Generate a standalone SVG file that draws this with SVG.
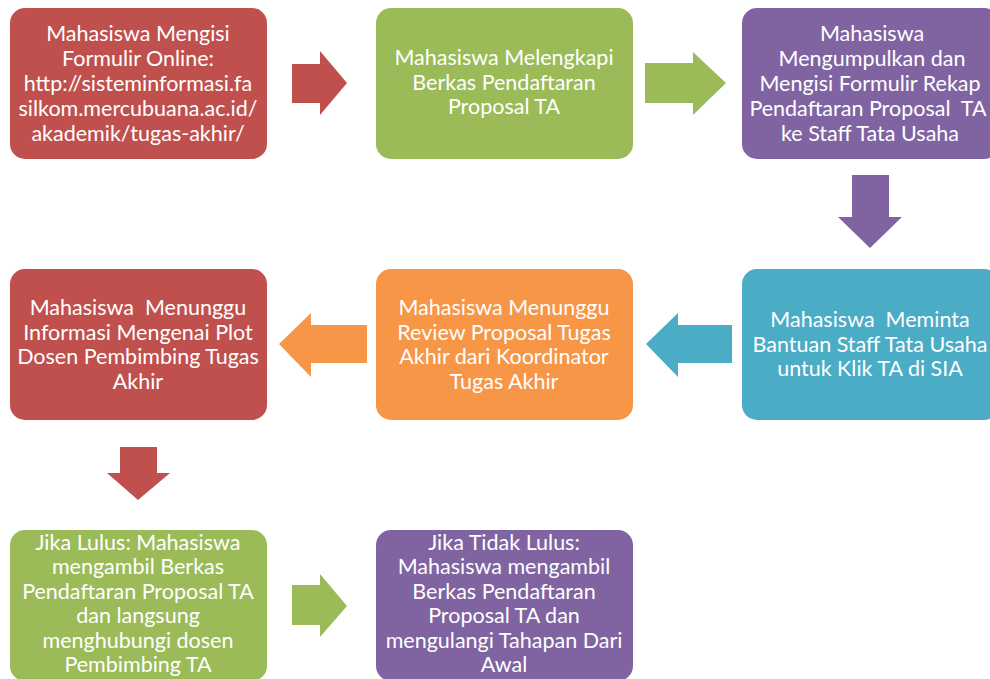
<svg xmlns="http://www.w3.org/2000/svg" width="990" height="679" viewBox="0 0 990 679">
<style>
.box{stroke:none}
.t{font-family:Lato,"Liberation Sans",sans-serif;font-size:21.5px;fill:#ffffff;text-anchor:middle;white-space:pre}
.red{fill:#C0504D}.green{fill:#9BBB59}.purple{fill:#8064A2}.orange{fill:#F79646}.teal{fill:#4BACC6}
</style>
<rect width="990" height="679" fill="#ffffff"/>
<g id="connectors">
<polygon class="red" points="292,64 320,64 320,51 347,83 320,115 320,103 292,103"/>
<polygon class="green" points="645,63 693,63 693,52 726,83 693,115 693,103 645,103"/>
<polygon class="purple" points="852,175 889,175 889,217 902,217 870,248 838,217 852,217"/>
<polygon class="teal" points="732,325 678,325 678,313 646,344 678,377 678,363 732,363"/>
<polygon class="orange" points="367,325 311,325 311,313 279,344 311,377 311,363 367,363"/>
<polygon class="red" points="120,447 157,447 157,473 170,473 138,500 107,473 120,473"/>
<polygon class="green" points="292,585 320,585 320,574 347,606 320,637 320,625 292,625"/>
</g>
<g id="n1">
<rect class="box red" x="10" y="8" width="257" height="151" rx="15"/>
<text class="t"><tspan x="138" y="41">Mahasiswa Mengisi</tspan><tspan x="138" y="66">Formulir Online:</tspan><tspan x="138" y="91">http://sisteminformasi.fa</tspan><tspan x="138" y="116">silkom.mercubuana.ac.id/</tspan><tspan x="138" y="141">akademik/tugas-akhir/</tspan></text>
</g>
<g id="n2">
<rect class="box green" x="376" y="8" width="257" height="151" rx="15"/>
<text class="t"><tspan x="504" y="65">Mahasiswa Melengkapi</tspan><tspan x="504" y="90">Berkas Pendaftaran</tspan><tspan x="504" y="114">Proposal TA</tspan></text>
</g>
<g id="n3">
<rect class="box purple" x="742" y="8" width="257" height="151" rx="15"/>
<text class="t"><tspan x="872" y="41">Mahasiswa</tspan><tspan x="872" y="66">Mengumpulkan dan</tspan><tspan x="870" y="91">Mengisi Formulir Rekap</tspan><tspan x="868" y="116">Pendaftaran Proposal  TA</tspan><tspan x="870" y="141">ke Staff Tata Usaha</tspan></text>
</g>
<g id="n4">
<rect class="box teal" x="742" y="269" width="257" height="151" rx="15"/>
<text class="t"><tspan x="870" y="327">Mahasiswa  Meminta</tspan><tspan x="870" y="352">Bantuan Staff Tata Usaha</tspan><tspan x="870" y="376">untuk Klik TA di SIA</tspan></text>
</g>
<g id="n5">
<rect class="box orange" x="376" y="269" width="257" height="151" rx="15"/>
<text class="t"><tspan x="504" y="315">Mahasiswa Menunggu</tspan><tspan x="504" y="340">Review Proposal Tugas</tspan><tspan x="504" y="364">Akhir dari Koordinator</tspan><tspan x="504" y="389">Tugas Akhir</tspan></text>
</g>
<g id="n6">
<rect class="box red" x="10" y="269" width="257" height="151" rx="15"/>
<text class="t"><tspan x="138" y="315">Mahasiswa  Menunggu</tspan><tspan x="138" y="340">Informasi Mengenai Plot</tspan><tspan x="138" y="364">Dosen Pembimbing Tugas</tspan><tspan x="138" y="389">Akhir</tspan></text>
</g>
<g id="n7">
<rect class="box green" x="10" y="530" width="257" height="151" rx="15"/>
<text class="t"><tspan x="138" y="550">Jika Lulus: Mahasiswa</tspan><tspan x="138" y="574">mengambil Berkas</tspan><tspan x="138" y="599">Pendaftaran Proposal TA</tspan><tspan x="138" y="623">dan langsung</tspan><tspan x="138" y="648">menghubungi dosen</tspan><tspan x="138" y="672">Pembimbing TA</tspan></text>
</g>
<g id="n8">
<rect class="box purple" x="376" y="530" width="257" height="151" rx="15"/>
<text class="t"><tspan x="504" y="550">Jika Tidak Lulus:</tspan><tspan x="504" y="574">Mahasiswa mengambil</tspan><tspan x="504" y="599">Berkas Pendaftaran</tspan><tspan x="504" y="623">Proposal TA dan</tspan><tspan x="504" y="648">mengulangi Tahapan Dari</tspan><tspan x="504" y="672">Awal</tspan></text>
</g>
</svg>
